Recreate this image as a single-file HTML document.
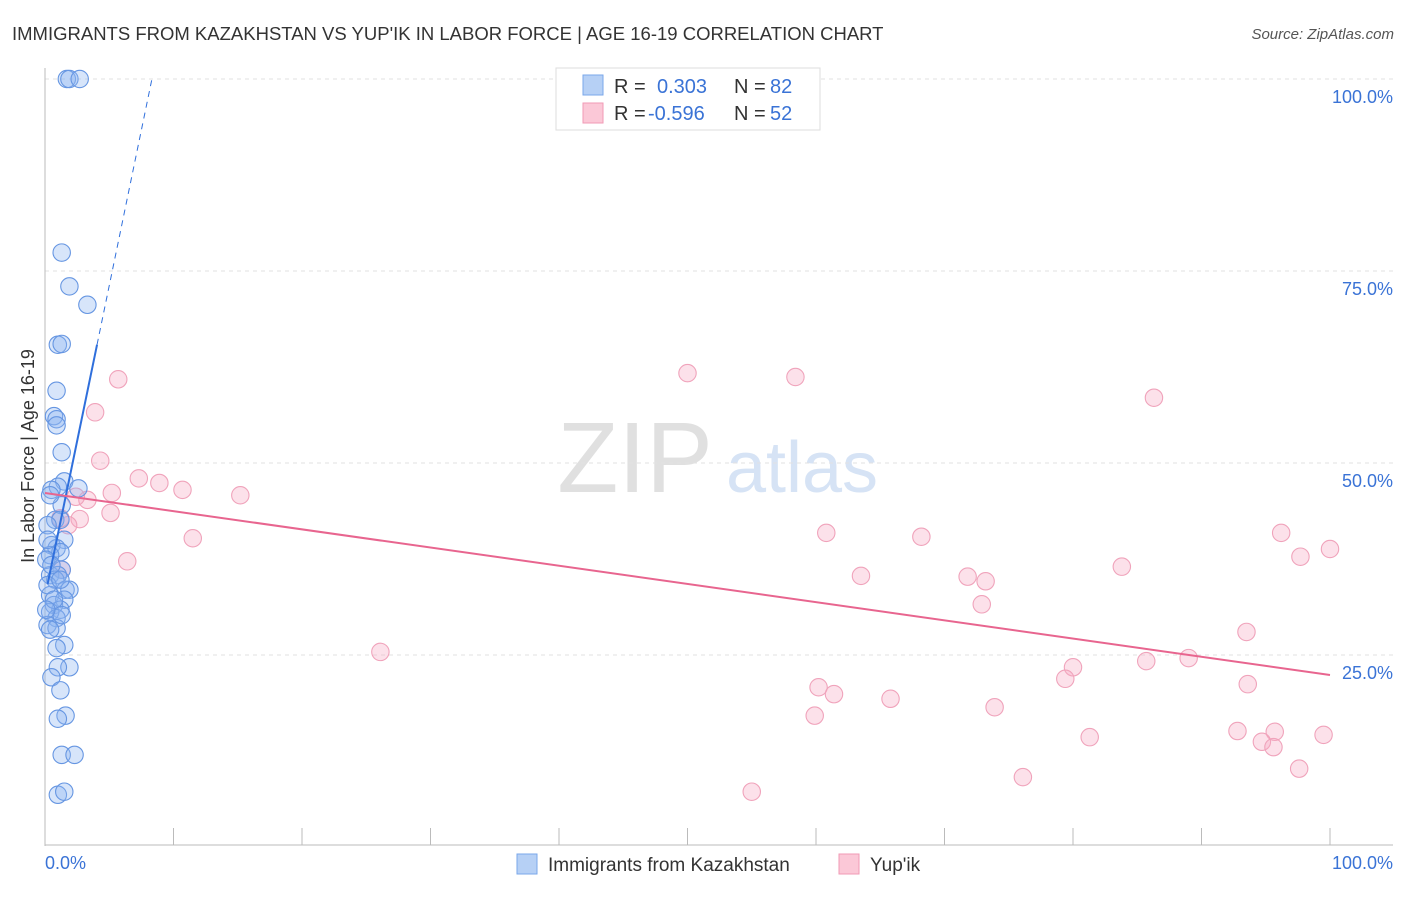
<!DOCTYPE html>
<html><head><meta charset="utf-8"><style>
body{margin:0;background:#fff;font-family:"Liberation Sans",sans-serif;}
svg text{font-family:"Liberation Sans",sans-serif;}
</style></head><body>
<svg id="chart" width="1406" height="892" xmlns="http://www.w3.org/2000/svg">
<text x="12" y="40" font-size="18.5" fill="#333">IMMIGRANTS FROM KAZAKHSTAN VS YUP'IK IN LABOR FORCE | AGE 16-19 CORRELATION CHART</text>
<text x="1394" y="39" font-size="15" fill="#555" font-style="italic" text-anchor="end">Source: ZipAtlas.com</text>
<text x="635" y="492" font-size="100" fill="#e0e0e0" font-family="Liberation Serif" text-anchor="middle">ZIP</text>
<text x="802" y="492" font-size="72" fill="#d6e3f5" text-anchor="middle">atlas</text>
<g id="grid"></g><g id="axes"></g><g id="pts"></g><g id="lines"></g>
<text transform="translate(34,456) rotate(-90)" font-size="18" fill="#333" text-anchor="middle">In Labor Force | Age 16-19</text>
<g>
<rect x="556" y="68" width="264" height="62" fill="#fff" stroke="#ddd"/>
<rect x="583" y="75" width="20" height="20" fill="#b6d0f5" stroke="#7aa7ea"/>
<rect x="583" y="103" width="20" height="20" fill="#fbc8d7" stroke="#f09ab5"/>
<text x="614" y="93" font-size="20" fill="#333">R =</text>
<text x="657" y="93" font-size="20" fill="#3a73d6">0.303</text>
<text x="734" y="93" font-size="20" fill="#333">N =</text>
<text x="770" y="93" font-size="20" fill="#3a73d6">82</text>
<text x="614" y="120" font-size="20" fill="#333">R =</text>
<text x="648" y="120" font-size="20" fill="#3a73d6">-0.596</text>
<text x="734" y="120" font-size="20" fill="#333">N =</text>
<text x="770" y="120" font-size="20" fill="#3a73d6">52</text>
</g>
<g>
<rect x="517" y="854" width="20" height="20" fill="#b6d0f5" stroke="#7aa7ea"/>
<text x="548" y="871" font-size="19" fill="#333">Immigrants from Kazakhstan</text>
<rect x="839" y="854" width="20" height="20" fill="#fbc8d7" stroke="#f09ab5"/>
<text x="870" y="871" font-size="19" fill="#333">Yup'ik</text>
</g>
</svg>
<script>
const yTicks=[25,50,75,100];
const yTickLabels=["25.0%","50.0%","75.0%","100.0%"];
const xTickVals=[0,10,20,30,40,50,60,70,80,90,100];
const blueX=[1.7,1.9,2.7,1.3,1.9,3.3,1.0,1.3,0.9,0.7,0.9,0.9,1.3,1.5,1.0,0.5,2.6,1.3,0.4,0.8,1.2,0.2,1.5,0.5,0.9,1.2,0.4,1.3,0.4,1.0,0.8,1.6,1.9,0.4,1.5,0.7,1.2,0.4,0.9,0.2,0.9,1.5,0.9,1.9,1.0,0.5,1.2,1.6,1.0,1.3,2.3,1.0,1.5,0.2,0.1,0.5,0.2,1.2,0.7,1.3,0.4,0.1];
const blueY=[100,100,100,77.4,73.0,70.6,65.4,65.5,59.4,56.1,55.7,54.9,51.4,47.6,46.9,46.5,46.7,44.5,45.8,42.6,42.6,41.9,40.0,39.3,38.9,38.4,38.0,36.1,35.4,35.4,34.8,33.5,33.5,32.8,32.2,31.5,30.9,30.6,29.8,28.9,28.5,26.3,25.9,23.4,23.4,22.1,20.4,17.1,16.7,12.0,12.0,6.8,7.2,40.0,37.4,36.7,34.1,34.8,32.2,30.2,28.3,30.9];
const pinkX=[5.7,3.9,4.3,7.3,8.9,10.7,15.2,5.2,3.3,2.4,2.7,5.1,1.8,1.2,11.5,6.4,26.1,50.0,58.4,86.3,60.8,68.2,63.5,71.8,73.2,72.9,83.8,96.2,97.7,100,93.5,80.0,79.4,85.7,89.0,93.6,60.2,61.4,65.8,73.9,59.9,81.3,92.8,95.7,94.7,95.6,99.5,97.6,76.1,55.0,1.3];
const pinkY=[60.9,56.6,50.3,48.0,47.4,46.5,45.8,46.1,45.2,45.6,42.7,43.5,41.9,42.8,40.2,37.2,25.4,61.7,61.2,58.5,40.9,40.4,35.3,35.2,34.6,31.6,36.5,40.9,37.8,38.8,28.0,23.4,21.9,24.2,24.6,21.2,20.8,19.9,19.3,18.2,17.1,14.3,15.1,15.0,13.7,13.0,14.6,10.2,9.1,7.2,36.1];
const blueTrend=[32.6,8.1]; // intercept, slope
const pinkTrend=[46.1,-23.7];
const NS="http://www.w3.org/2000/svg";
const X=v=>45+v*12.85, Y=v=>847-v*7.68;
function mk(t,a,p){const e=document.createElementNS(NS,t);for(const k in a)e.setAttribute(k,a[k]);document.getElementById(p).appendChild(e);return e;}
yTicks.forEach((t,i)=>{
 const g=mk('line',{x1:45,x2:1393,y1:Y(t),y2:Y(t),stroke:'#e2e2e2','stroke-dasharray':'4,4'},'grid');
 
 
 const l=mk('text',{x:1393,y:Y(t)+24,'font-size':18,fill:'#3a73d6','text-anchor':'end'},'grid');
 l.textContent=yTickLabels[i];
 
 
});
const ax=mk('line',{x1:45,x2:45,y1:68,y2:846,stroke:'#bbb'},'axes');


const bx=mk('line',{x1:45,x2:1393,y1:845,y2:845,stroke:'#bbb'},'axes');


xTickVals.forEach(v=>{const t=mk('line',{x1:X(v),x2:X(v),y1:828,y2:845,stroke:'#bbb'},'axes');
 
 });
let t0=mk('text',{x:45,y:869,'font-size':18,fill:'#3a73d6'},'axes');t0.textContent='0.0%';


let t1=mk('text',{x:1393,y:869,'font-size':18,fill:'#3a73d6','text-anchor':'end'},'axes');t1.textContent='100.0%';


pinkX.forEach((x,i)=>{const c=mk('circle',{cx:X(x),cy:Y(pinkY[i]),r:8.7,fill:'rgba(247,170,195,0.35)',stroke:'#f0a3bb','stroke-width':1.1},'pts');
 
 });
blueX.forEach((x,i)=>{const c=mk('circle',{cx:X(x),cy:Y(blueY[i]),r:8.7,fill:'rgba(140,180,240,0.35)',stroke:'#6696e2','stroke-width':1.1},'pts');
 
 });
const bf=x=>blueTrend[0]+blueTrend[1]*x, pf=x=>pinkTrend[0]+pinkTrend[1]*x/100;
let l1=mk('line',{x1:X(0.2),y1:Y(bf(0.2)),x2:X(4.05),y2:Y(bf(4.05)),stroke:'#2f6fdc','stroke-width':2},'lines');


let l2=mk('line',{x1:X(4.05),y1:Y(bf(4.05)),x2:X(8.3),y2:Y(bf(8.3)),stroke:'#2f6fdc','stroke-width':1,'stroke-dasharray':'6,5'},'lines');


let l3=mk('line',{x1:X(0),y1:Y(pf(0)),x2:X(100),y2:Y(pf(100)),stroke:'#e8658f','stroke-width':2},'lines');


</script>
</body></html>
